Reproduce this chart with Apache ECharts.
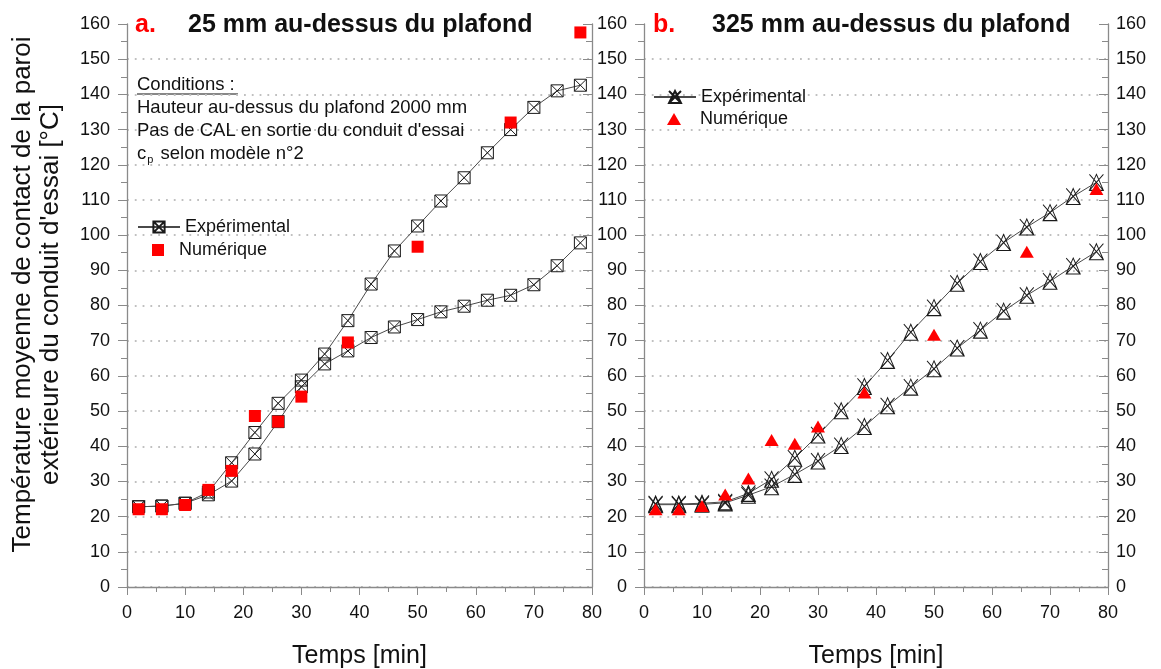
<!DOCTYPE html>
<html>
<head>
<meta charset="utf-8">
<script src="https://cdn.jsdelivr.net/npm/echarts@6/dist/echarts.min.js"></script>
<style>html,body{margin:0;padding:0;background:#fff;}#c{width:1161px;height:669px;}</style>
</head>
<body>
<div id="c"></div>
<script>
// ---- Data ----
const timeExp = [2,6,10,14,18,22,26,30,34,38,42,46,50,54,58,62,66,70,74,78];
const expA1 = [22.8,23.0,23.8,27.0,35.3,43.9,52.2,58.8,66.2,75.7,86.1,95.5,102.6,109.7,116.3,123.4,130.0,136.3,141.0,142.6];
const expA2 = [22.8,23.0,23.8,26.2,30.1,37.8,47.0,56.9,63.4,67.1,70.9,73.9,76.0,78.2,79.8,81.5,82.9,85.9,91.3,97.8];
const timeNum = [2,6,10,14,18,22,26,30,38,50,66,78];
const numA = [22.1,22.1,23.3,27.6,33.0,48.6,47.0,54.1,69.5,96.7,132.0,157.6];
const expB1 = [23.6,23.6,23.8,24.2,26.6,30.6,36.6,43.2,50.1,57.0,64.4,72.4,79.4,86.3,92.5,97.9,102.3,106.4,111.0,115.0];
const expB2 = [23.4,23.4,23.5,23.9,26.1,28.5,32.0,35.8,40.2,45.6,51.5,56.8,62.0,67.9,73.0,78.4,82.9,86.9,91.2,95.3];
const numB = [22.1,22.1,23.0,26.3,30.8,41.8,40.7,45.6,55.3,71.7,95.3,113.1];
const xTicks = {min:0, max:80, interval:10};
const yTicks = {min:0, max:160, interval:10};
const titleA = '25 mm au-dessus du plafond';
const titleB = '325 mm au-dessus du plafond';
const yName = 'Température moyenne de contact de la paroi\nextérieure du conduit d\'essai [°C]';
const xName = 'Temps [min]';

const zip = (xs, ys) => xs.map((x,i)=>[x, ys[i]]);
const FONT = 'Liberation Sans';
const AX = '#8a8a8a';
const squareX = 'path://M0,0L10,0L10,10L0,10Z M0,0L10,10 M10,0L0,10';
const triX = 'path://M5,0L10,10L0,10Z M0,0L10,10 M10,0L0,10';

function xAxis(g){
  return {type:'value', gridIndex:g, min:xTicks.min, max:xTicks.max, interval:xTicks.interval,
    name:xName, nameLocation:'middle', nameGap:57,
    nameTextStyle:{fontFamily:FONT, fontSize:25, color:'#111'},
    axisLine:{show:true, onZero:false, lineStyle:{color:AX, width:1.3}},
    axisTick:{show:true, length:8, lineStyle:{color:AX}},
    minorTick:{show:true, splitNumber:2, length:5, lineStyle:{color:AX}},
    axisLabel:{fontFamily:FONT, fontSize:18, color:'#111', margin:17},
    splitLine:{show:false}};
}
function yMain(g, withName){
  const a = {type:'value', gridIndex:g, position:'left', min:yTicks.min, max:yTicks.max, interval:yTicks.interval,
    axisLine:{show:true, onZero:false, lineStyle:{color:AX, width:1.3}},
    axisTick:{show:true, length:9, lineStyle:{color:AX}},
    minorTick:{show:true, splitNumber:2, length:6, lineStyle:{color:AX}},
    axisLabel:{fontFamily:FONT, fontSize:18, color:'#111', margin:17},
    splitLine:{show:true, showMaxLine:false, lineStyle:{color:'#c0c0c0', width:1.8, type:[1.8,6], dashOffset:0}}};
  if (withName){
    a.name = yName; a.nameLocation='middle'; a.nameRotate=90; a.nameGap=62;
    a.nameTextStyle = {fontFamily:FONT, fontSize:26, color:'#111', lineHeight:28, padding:[0,0,0,22]};
  }
  return a;
}
function ySide(g, labels){
  return {type:'value', gridIndex:g, position:'right', min:yTicks.min, max:yTicks.max, interval:yTicks.interval,
    axisLine:{show:true, onZero:false, lineStyle:{color:AX, width:1.3}},
    axisTick:{show:true, inside:true, length:9, lineStyle:{color:AX}},
    minorTick:{show:true, splitNumber:2, length:6, lineStyle:{color:AX}},
    axisLabel:{show:labels, fontFamily:FONT, fontSize:18, color:'#111', margin:8},
    splitLine:{show:false}};
}
function expSeries(name, xi, yi, data, sym, size){
  return {type:'line', name:name, xAxisIndex:xi, yAxisIndex:yi, data:data,
    symbol:sym, symbolSize:size, showAllSymbol:true,
    lineStyle:{color:'#4a4a4a', width:1},
    itemStyle:{color:'rgba(255,255,255,0)', borderColor:'#1a1a1a', borderWidth:1},
    emphasis:{disabled:true}, z:2};
}
function numSeries(name, xi, yi, data, sym, size){
  return {type:'scatter', name:name, xAxisIndex:xi, yAxisIndex:yi, data:data,
    symbol:sym, symbolSize:size, itemStyle:{color:'#ff0000', opacity:1},
    emphasis:{disabled:true}, z:3};
}
const legText = {fontFamily:FONT, fontSize:18, color:'#111'};

const chart = echarts.init(document.getElementById('c'), null, {renderer:'canvas'});
const option = {
  animation:false,
  backgroundColor:'#fff',
  textStyle:{fontFamily:FONT},
  grid:[
    {left:127, right:569, top:24, bottom:82, containLabel:false, outerBoundsMode:'none'},
    {left:644, right:53, top:24, bottom:82, containLabel:false, outerBoundsMode:'none'}
  ],
  xAxis:[xAxis(0), xAxis(1)],
  yAxis:[yMain(0,true), ySide(0,false), yMain(1,false), ySide(1,true)],
  title:[
    {text:'a.', left:135, top:13, padding:0, textStyle:{fontFamily:FONT, fontSize:25, fontWeight:'bold', color:'#ff0000'}},
    {text:titleA, left:188, top:13, padding:0, textStyle:{fontFamily:FONT, fontSize:25, fontWeight:'bold', color:'#111'}},
    {text:'b.', left:653, top:13, padding:0, textStyle:{fontFamily:FONT, fontSize:25, fontWeight:'bold', color:'#ff0000'}},
    {text:titleB, left:712, top:13, padding:0, textStyle:{fontFamily:FONT, fontSize:25, fontWeight:'bold', color:'#111'}},
    {text:'Conditions :\nHauteur au-dessus du plafond 2000 mm\nPas de CAL en sortie du conduit d\'essai\nc{sub|p} selon modèle n°2',
     left:137, top:73, padding:0,
     textStyle:{fontFamily:FONT, fontSize:18.5, fontWeight:'normal', color:'#111', lineHeight:23,
       rich:{sub:{fontFamily:FONT, fontSize:11, color:'#111', verticalAlign:'bottom', lineHeight:23, padding:[0,2,0,1]}}}}
  ],
  graphic:[
    {type:'line', shape:{x1:137, y1:94, x2:238, y2:94}, style:{stroke:'#111', lineWidth:1}}
  ],
  legend:[
    {data:['Expérimental'], left:137, top:218, itemWidth:42, itemHeight:14,
     padding:0, selectedMode:false, textStyle:legText},
    {data:['Numérique'], left:152, top:241, itemWidth:12, itemHeight:12,
     padding:0, selectedMode:false, textStyle:Object.assign({padding:[0,0,0,10]}, legText)},
    {data:['Expérimental b'], left:653, top:88, itemWidth:42, itemHeight:15,
     padding:0, selectedMode:false, formatter:n=>n.replace(/ b$/,''), textStyle:legText},
    {data:['Numérique b'], left:667, top:110, itemWidth:14, itemHeight:12,
     padding:0, selectedMode:false, formatter:n=>n.replace(/ b$/,''), textStyle:Object.assign({padding:[0,0,0,14]}, legText)}
  ],
  series:[
    expSeries('Expérimental', 0, 0, zip(timeExp, expA1), squareX, 12),
    expSeries('Expérimental', 0, 0, zip(timeExp, expA2), squareX, 12),
    numSeries('Numérique', 0, 0, zip(timeNum, numA), 'rect', 12),
    expSeries('Expérimental b', 1, 2, zip(timeExp, expB1), triX, [14,16]),
    expSeries('Expérimental b', 1, 2, zip(timeExp, expB2), triX, [14,16]),
    numSeries('Numérique b', 1, 2, zip(timeNum, numB), 'triangle', [14,12])
  ]
};
chart.setOption(option);
</script>
</body>
</html>
